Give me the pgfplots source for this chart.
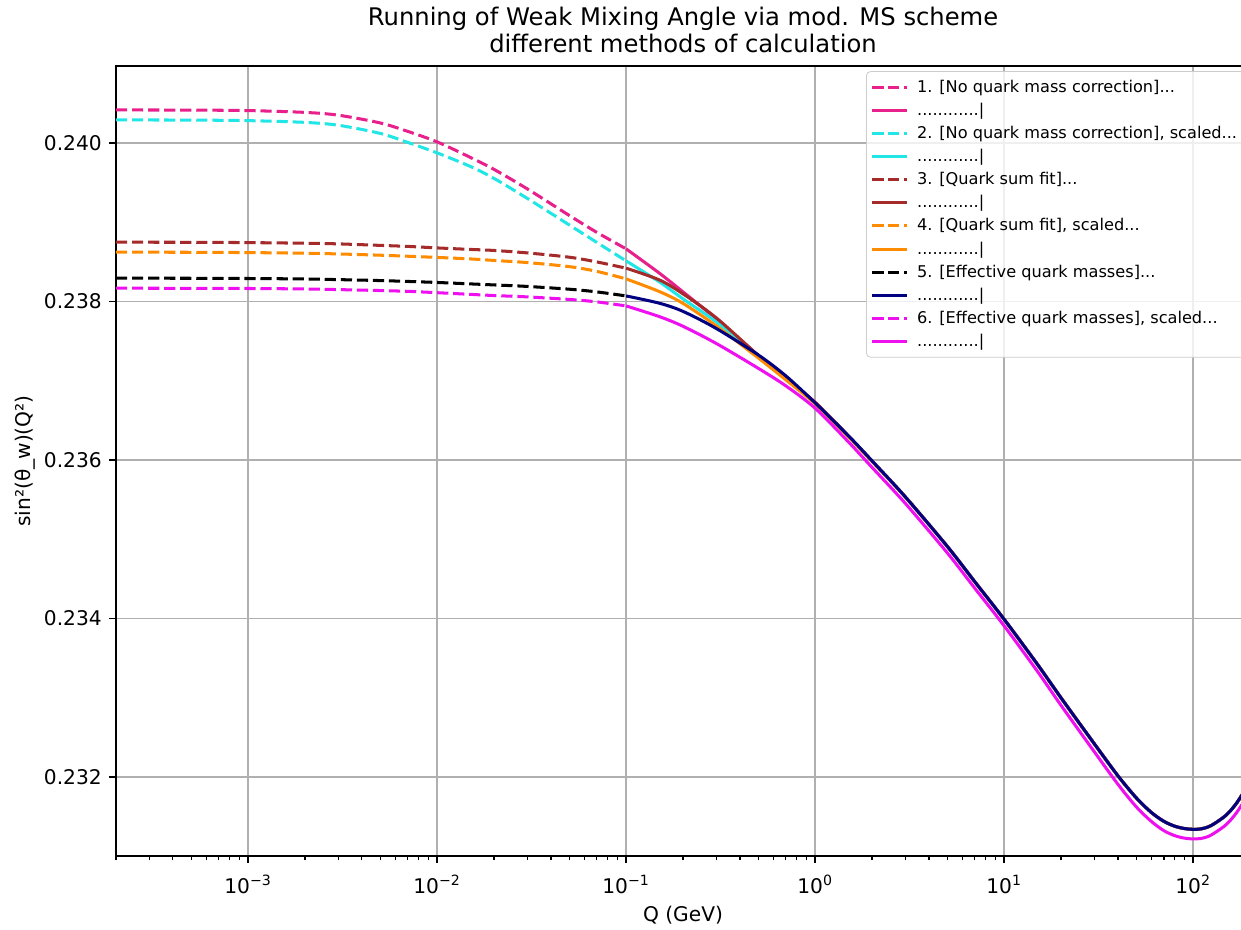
\documentclass[border=0pt]{standalone}
\usepackage{fontspec}
\setmainfont{DejaVu Sans}
\usepackage{pgfplots}
\pgfplotsset{compat=1.18}
\definecolor{c1}{HTML}{E8208C}
\definecolor{c2}{HTML}{22E6E6}
\definecolor{c3}{HTML}{A52A2A}
\definecolor{c4}{HTML}{FF8C00}
\definecolor{c5}{HTML}{000000}
\definecolor{c5s}{HTML}{000080}
\definecolor{c6}{HTML}{EE10EE}
\definecolor{gridgray}{HTML}{B0B0B0}
\begin{document}
\begin{tikzpicture}
\begin{axis}[name=ax, scale only axis, width=561.4pt, height=391.1pt,
  xmode=log, xmin=2e-4, xmax=200, ymin=0.231, ymax=0.24097,
  xtick={1e-3,1e-2,1e-1,1,10,100},
  xticklabels={10\textsuperscript{−3},10\textsuperscript{−2},10\textsuperscript{−1},10\textsuperscript{0},10\textsuperscript{1},10\textsuperscript{2}},
  minor xtick={2e-4,3e-4,4e-4,5e-4,6e-4,7e-4,8e-4,9e-4,2e-3,3e-3,4e-3,5e-3,6e-3,7e-3,8e-3,9e-3,0.02,0.03,0.04,0.05,0.06,0.07,0.08,0.09,0.2,0.3,0.4,0.5,0.6,0.7,0.8,0.9,2,3,4,5,6,7,8,9,20,30,40,50,60,70,80,90,200},
  ytick={0.232,0.234,0.236,0.238,0.240},
  yticklabel style={/pgf/number format/.cd, fixed, fixed zerofill, precision=3, assume math mode=true},
  xticklabel style={yshift=-2.5pt},
  scaled y ticks=false,
  tick label style={font=\fontsize{10}{12}\selectfont, black},
  label style={font=\fontsize{10}{12}\selectfont},
  tick pos=left, tick align=outside,
  major tick length=3.5pt, minor tick length=2pt,
  every tick/.style={black, line width=0.8pt},
  minor tick style={line width=0.6pt},
  axis line style={line width=0.8pt},
  grid=major, major grid style={gridgray, line width=0.8pt},
  title={Running of Weak Mixing Angle via mod. MS scheme\\different methods of calculation},
  title style={align=center, font=\fontsize{12}{13.4}\selectfont, yshift=-3pt},
  xlabel={Q (GeV)},
  ylabel={sin²(θ\_w)(Q²)},
  xlabel style={at={(axis description cs:0.5,-0.0747)}, anchor=center},
  ylabel style={at={(axis description cs:-0.0802,0.5)}, anchor=center, rotate=0},
  legend cell align=left,
  legend style={at={(0.6614,0.9935)}, anchor=north west, draw=black!20, fill=white, fill opacity=0.8, text opacity=1, rounded corners=2pt, font=\fontsize{8}{9.6}\selectfont, row sep=0pt, inner sep=2pt, nodes={inner ysep=1.5pt, text height=6.65pt, text depth=1.8pt}, /tikz/every odd column/.append style={column sep=2.5pt}},
  dsh/.style={line width=1.5pt, dash pattern=on 5.55pt off 2.4pt, smooth, tension=0.5},
  sld/.style={line width=1.5pt, smooth, tension=0.5},
]
% Series 1
\addplot[c1, dsh] coordinates {(2e-4,0.240416)(5e-4,0.240414)(1e-3,0.240408)(2e-3,0.240385)(3e-3,0.240350)(5e-3,0.240252)(7e-3,0.240145)(1e-2,0.240013)(1.5e-2,0.239817)(2e-2,0.239666)(3e-2,0.239420)(5e-2,0.239085)(7e-2,0.238871)(0.1,0.238663)};
\addlegendentry{1. [No quark mass correction]...}
\addplot[c1, sld] coordinates {(0.1,0.238663)(0.15,0.238356)(0.2,0.238120)(0.3,0.237779)(0.5,0.237319)(0.7,0.237029)(1,0.236726)(1.5,0.236303)(2,0.235987)(3,0.235533)(5,0.234909)(7,0.234461)(10,0.233988)(15,0.233420)(20,0.232997)(30,0.232417)(40,0.232013)(50,0.231735)(60,0.231552)(70,0.231439)(80,0.231377)(90,0.231348)(100,0.231338)(110,0.231344)(120,0.231369)(130,0.231413)(150,0.231521)(170,0.231672)(200,0.231937)};
\addlegendentry{............|}
% Series 2
\addplot[c2, dsh] coordinates {(2e-4,0.240290)(5e-4,0.240288)(1e-3,0.240281)(2e-3,0.240259)(3e-3,0.240223)(5e-3,0.240120)(7e-3,0.240006)(1e-2,0.239874)(1.5e-2,0.239703)(2e-2,0.239552)(3e-2,0.239300)(5e-2,0.238965)(7e-2,0.238744)(0.1,0.238511)};
\addlegendentry{2. [No quark mass correction], scaled...}
\addplot[c2, sld] coordinates {(0.1,0.238511)(0.15,0.238246)(0.2,0.238032)(0.3,0.237741)(0.5,0.237312)(0.7,0.237022)(1,0.236719)(1.5,0.236303)(2,0.235987)(3,0.235533)(5,0.234909)(7,0.234461)(10,0.233988)(15,0.233420)(20,0.232997)(30,0.232417)(40,0.232013)(50,0.231735)(60,0.231552)(70,0.231439)(80,0.231377)(90,0.231348)(100,0.231338)(110,0.231344)(120,0.231369)(130,0.231413)(150,0.231521)(170,0.231672)(200,0.231937)};
\addlegendentry{............|}
% Series 3
\addplot[c3, dsh] coordinates {(2e-4,0.238747)(5e-4,0.238746)(1e-3,0.238742)(2e-3,0.238734)(3e-3,0.238726)(5e-3,0.238707)(7e-3,0.238694)(1e-2,0.238675)(1.5e-2,0.238656)(2e-2,0.238643)(3e-2,0.238612)(5e-2,0.238558)(7e-2,0.238498)(0.1,0.238419)};
\addlegendentry{3. [Quark sum fit]...}
\addplot[c3, sld] coordinates {(0.1,0.238419)(0.15,0.238271)(0.2,0.238095)(0.3,0.237792)(0.5,0.237319)(0.7,0.237029)(1,0.236726)(1.5,0.236303)(2,0.235987)(3,0.235533)(5,0.234909)(7,0.234461)(10,0.233988)(15,0.233420)(20,0.232997)(30,0.232417)(40,0.232013)(50,0.231735)(60,0.231552)(70,0.231439)(80,0.231377)(90,0.231348)(100,0.231338)(110,0.231344)(120,0.231369)(130,0.231413)(150,0.231521)(170,0.231672)(200,0.231937)};
\addlegendentry{............|}
% Series 4
\addplot[c4, dsh] coordinates {(2e-4,0.238621)(5e-4,0.238620)(1e-3,0.238616)(2e-3,0.238608)(3e-3,0.238599)(5e-3,0.238583)(7e-3,0.238570)(1e-2,0.238555)(1.5e-2,0.238536)(2e-2,0.238517)(3e-2,0.238490)(5e-2,0.238439)(7e-2,0.238379)(0.1,0.238284)};
\addlegendentry{4. [Quark sum fit], scaled...}
\addplot[c4, sld] coordinates {(0.1,0.238284)(0.15,0.238124)(0.2,0.237975)(0.3,0.237691)(0.5,0.237287)(0.7,0.237010)(1,0.236707)(1.5,0.236290)(2,0.235980)(3,0.235533)(5,0.234909)(7,0.234461)(10,0.233988)(15,0.233420)(20,0.232997)(30,0.232417)(40,0.232013)(50,0.231735)(60,0.231552)(70,0.231439)(80,0.231377)(90,0.231348)(100,0.231338)(110,0.231344)(120,0.231369)(130,0.231413)(150,0.231521)(170,0.231672)(200,0.231937)};
\addlegendentry{............|}
% Series 5
\addplot[c5, dsh] coordinates {(2e-4,0.238293)(5e-4,0.238292)(1e-3,0.238289)(2e-3,0.238283)(3e-3,0.238275)(5e-3,0.238263)(7e-3,0.238252)(1e-2,0.238239)(1.5e-2,0.238221)(2e-2,0.238208)(3e-2,0.238189)(5e-2,0.238154)(7e-2,0.238120)(0.1,0.238069)};
\addlegendentry{5. [Effective quark masses]...}
\addplot[c5s, sld] coordinates {(0.1,0.238069)(0.15,0.237977)(0.2,0.237874)(0.3,0.237658)(0.5,0.237325)(0.7,0.237060)(1,0.236719)(1.5,0.236303)(2,0.235987)(3,0.235533)(5,0.234909)(7,0.234461)(10,0.233988)(15,0.233420)(20,0.232997)(30,0.232417)(40,0.232013)(50,0.231735)(60,0.231552)(70,0.231439)(80,0.231377)(90,0.231348)(100,0.231338)(110,0.231344)(120,0.231369)(130,0.231413)(150,0.231521)(170,0.231672)(200,0.231937)};
\addlegendentry{............|}
% Series 6
\addplot[c6, dsh] coordinates {(2e-4,0.238167)(5e-4,0.238165)(1e-3,0.238163)(2e-3,0.238157)(3e-3,0.238149)(5e-3,0.238137)(7e-3,0.238127)(1e-2,0.238110)(1.5e-2,0.238089)(2e-2,0.238074)(3e-2,0.238057)(5e-2,0.238025)(7e-2,0.237994)(0.1,0.237943)};
\addlegendentry{6. [Effective quark masses], scaled...}
\addplot[c6, sld] coordinates {(0.1,0.237943)(0.15,0.237808)(0.2,0.237686)(0.3,0.237469)(0.5,0.237156)(0.7,0.236934)(1,0.236652)(1.5,0.236227)(2,0.235905)(3,0.235451)(5,0.234827)(7,0.234379)(10,0.233905)(15,0.233331)(20,0.232902)(30,0.232316)(40,0.231906)(50,0.231622)(60,0.231439)(70,0.231321)(80,0.231258)(90,0.231227)(100,0.231217)(110,0.231223)(120,0.231248)(130,0.231294)(150,0.231401)(170,0.231552)(200,0.231811)};
\addlegendentry{............|}
\end{axis}
\pgfresetboundingbox
\path ([shift={(-57.4pt,-36.1pt)}]ax.south west) rectangle ([shift={(-4.5pt,32.7pt)}]ax.north east);
\end{tikzpicture}
\end{document}
